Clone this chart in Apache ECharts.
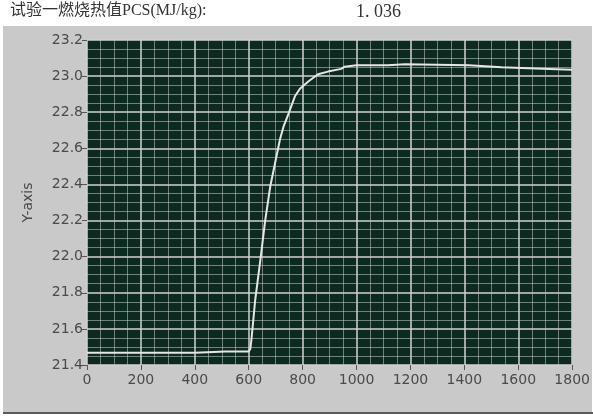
<!DOCTYPE html>
<html>
<head>
<meta charset="utf-8">
<script src="https://cdn.jsdelivr.net/npm/echarts@6/dist/echarts.min.js"></script>
<style>
  html, body { margin: 0; padding: 0; background: #fff; }
  #main { width: 593px; height: 418px; }
</style>
</head>
<body>
<div id="main"></div>
<script>
// 时间轴 (x) 和 热值 (y)
var timeData = [0, 100, 200, 300, 400, 514, 560, 600, 606, 610, 624, 643, 661, 680, 698, 716, 729, 747, 772, 790, 821, 857, 894, 943, 956, 1000, 1116, 1120, 1180, 1184, 1416, 1420, 1538, 1542, 1715, 1720, 1800];
var valueData = [21.468, 21.468, 21.468, 21.468, 21.468, 21.475, 21.475, 21.475, 21.49, 21.54, 21.76, 21.98, 22.20, 22.39, 22.52, 22.65, 22.72, 22.79, 22.89, 22.93, 22.97, 23.01, 23.025, 23.04, 23.052, 23.06, 23.06, 23.066, 23.066, 23.06, 23.06, 23.049, 23.049, 23.04, 23.04, 23.035, 23.035];
var yTicks = [21.4, 21.6, 21.8, 22.0, 22.2, 22.4, 22.6, 22.8, 23.0, 23.2];

var titleText = '试验一燃烧热值PCS(MJ/kg):';
var resultText = '1. 036';

var points = [];
for (var i = 0; i < timeData.length; i++) {
    points.push([timeData[i], valueData[i]]);
}

var myChart = echarts.init(document.getElementById('main'));

var option = {
    backgroundColor: '#ffffff',
    animation: false,
    graphic: [
        {   // 灰色面板
            type: 'rect',
            z: -10,
            shape: { x: 3, y: 26, width: 589, height: 387 },
            style: { fill: '#c9c9c9' }
        },
        {
            type: 'line',
            z: -9,
            shape: { x1: 3, y1: 413, x2: 593, y2: 413 },
            style: { stroke: '#5a5a5a', lineWidth: 2 }
        },
        {
            type: 'text',
            left: 10,
            top: 3,
            style: {
                text: titleText,
                font: '16px "Liberation Serif", "Noto Sans CJK SC", serif',
                fill: '#333'
            }
        },
        {
            type: 'text',
            left: 356,
            top: 3,
            style: {
                text: resultText,
                font: '18px "Liberation Serif", serif',
                fill: '#333'
            }
        }
    ],
    grid: {
        left: 87,
        right: 17,
        top: 40,
        bottom: 53,
        show: true,
        backgroundColor: '#0d2a21',
        borderWidth: 0
    },
    xAxis: {
        type: 'value',
        min: 0,
        max: 1800,
        interval: 200,
        axisLine: { show: false },
        axisTick: { show: true, length: 5, lineStyle: { color: '#555' } },
        axisLabel: {
            color: '#4a4a4a',
            fontSize: 14,
            fontFamily: '"DejaVu Sans", sans-serif',
            margin: 8,
            formatter: function(v) { return String(v); }
        },
        splitLine: { show: true, lineStyle: { color: '#d2d2d2', width: 1.5 } },
        minorTick: { show: false, splitNumber: 4 },
        minorSplitLine: { show: true, lineStyle: { color: 'rgba(200,200,200,0.55)', width: 1 } }
    },
    yAxis: {
        type: 'value',
        min: yTicks[0],
        max: yTicks[yTicks.length - 1],
        interval: 0.2,
        name: 'Y-axis',
        nameLocation: 'middle',
        nameGap: 52,
        nameTextStyle: { color: '#4a4a4a', fontSize: 14, fontFamily: '"DejaVu Sans", sans-serif' },
        axisLine: { show: false },
        axisTick: { show: true, length: 5, lineStyle: { color: '#555' } },
        axisLabel: {
            color: '#4a4a4a',
            fontSize: 14,
            fontFamily: '"DejaVu Sans", sans-serif',
            margin: 4,
            formatter: function(v) { return v.toFixed(1); }
        },
        splitLine: { show: true, lineStyle: { color: '#d2d2d2', width: 1.5 } },
        minorTick: { show: false, splitNumber: 4 },
        minorSplitLine: { show: true, lineStyle: { color: 'rgba(200,200,200,0.55)', width: 1 } }
    },
    series: [{
        type: 'line',
        data: points,
        showSymbol: false,
        lineStyle: { color: '#e6e6e6', width: 2 },
        z: 5
    }]
};

myChart.setOption(option);
</script>
</body>
</html>
